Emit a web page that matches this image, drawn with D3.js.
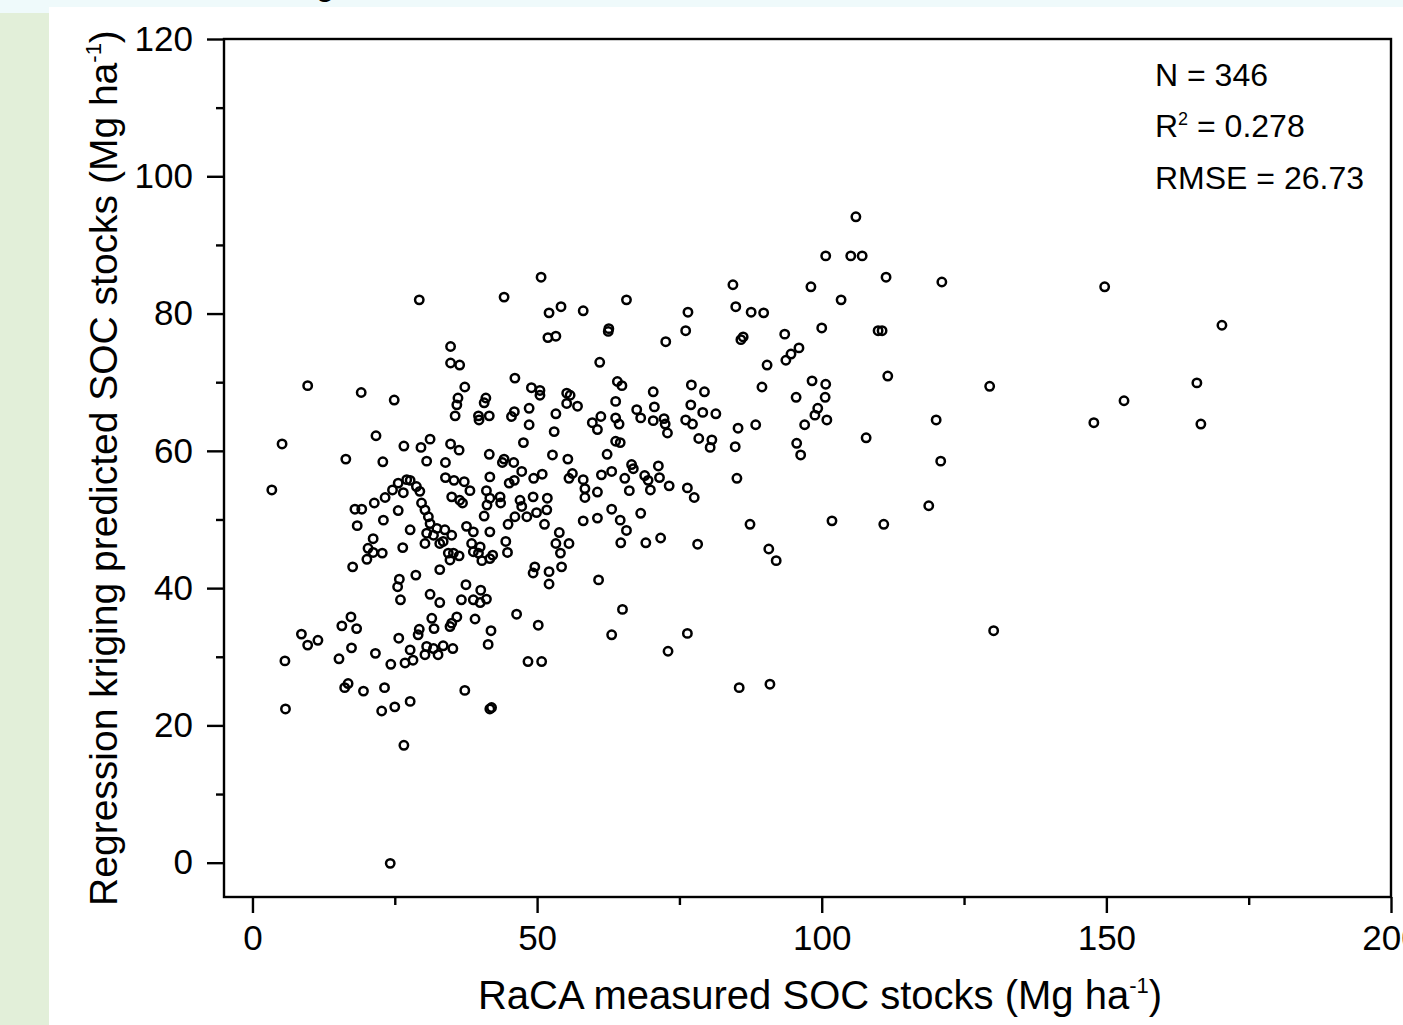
<!DOCTYPE html>
<html>
<head>
<meta charset="utf-8">
<script src="https://cdn.jsdelivr.net/npm/d3@7"></script>
<style>
  html, body { margin: 0; padding: 0; background: #ffffff; overflow: hidden; }
  svg { display: block; }
  text { font-family: "Liberation Sans", Arial, Helvetica, sans-serif; fill: #000; }
</style>
</head>
<body>
<svg id="chart" width="1403" height="1025"></svg>
<script>
// ---- Data ----
const measured = [
106.0,100.7,105.1,107.1,149.7,121.1,111.3,98.1,103.4,84.4,84.9,87.6,89.8,76.5,76.1,100.0,109.9,110.6,170.3,85.8,
86.2,93.5,96.0,94.6,93.7,90.4,111.6,129.5,165.9,98.3,100.7,100.6,100.9,153.1,95.5,89.5,99.3,98.8,97.0,120.1,
147.8,166.6,88.4,107.8,95.6,96.3,120.9,84.8,118.8,110.9,101.8,87.4,90.7,92.0,130.2,85.5,90.9,85.1,85.3,
58.1,65.7,62.6,62.5,72.6,61.0,64.1,64.9,70.4,77.1,79.4,55.8,57.1,63.8,67.5,68.2,70.6,77.0,79.1,81.4,
59.7,61.2,60.6,63.8,64.4,70.4,72.3,72.5,72.9,76.1,77.3,78.4,80.7,80.4,63.8,64.6,62.3,55.4,66.6,66.9,
71.3,56.2,55.6,61.3,63.1,65.4,68.9,69.5,69.9,71.5,73.2,76.4,77.6,58.1,58.4,58.4,60.6,66.2,63.1,64.6,
68.2,60.6,58.1,65.7,55.6,64.7,69.1,71.7,78.2,60.8,65.0,63.1,76.4,73.0,
29.3,44.2,50.7,52.1,54.2,51.9,53.3,34.8,34.8,36.4,37.3,36.1,35.9,35.6,41.0,40.7,39.7,39.8,41.6,46.1,
49.0,50.5,50.5,55.2,55.2,46.0,45.5,48.6,53.3,48.6,53.0,47.6,31.2,29.6,34.8,36.3,41.6,52.7,30.6,33.9,
44.2,43.9,45.9,47.3,41.7,33.9,35.4,37.2,38.2,45.1,46.0,49.4,50.9,27.7,28.8,29.4,29.7,30.3,30.9,35.0,
36.4,36.9,41.1,41.7,43.5,43.6,41.2,47.0,47.3,46.1,48.2,49.3,51.8,51.7,49.9,40.7,
9.7,19.1,24.9,5.2,21.7,26.6,16.4,22.9,3.4,25.6,27.1,24.6,26.5,23.3,21.4,18.0,19.2,25.6,23.0,18.4,
27.7,21.2,20.3,21.2,22.8,20.1,26.4,17.6,25.8,25.5,26.0,17.3,15.7,18.3,8.6,9.7,11.5,25.7,27.7,17.4,
15.2,21.6,24.3,26.8,28.2,5.7,16.8,16.2,19.5,23.2,27.7,5.8,22.7,25.0,26.6,24.2,
31.2,30.6,30.3,31.8,32.4,32.9,33.8,33.5,35.0,34.4,35.3,36.3,32.9,34.7,37.6,38.8,38.5,38.8,40.0,39.7,
40.3,41.7,42.2,41.7,44.9,44.5,44.8,51.3,53.9,53.3,54.1,54.3,49.6,49.3,52.1,52.1,28.7,37.5,40.1,36.7,
38.8,40.0,41.1,31.2,32.9,46.4,50.2,31.5,31.9,29.3,29.1,35.9,35.0,34.7,39.1,41.9,41.4,30.6,31.8,33.5,
35.2,30.3,32.6,48.4,50.8,37.3,42.0,41.7
];
const predicted = [
94.1,88.4,88.4,88.4,83.9,84.6,85.3,83.9,82.0,84.2,81.0,80.2,80.1,80.2,77.5,77.9,77.5,77.5,78.3,76.2,
76.6,77.0,75.0,74.1,73.2,72.5,70.9,69.4,69.9,70.2,69.7,67.8,64.5,67.3,67.8,69.3,66.2,65.2,63.8,64.5,
64.1,63.9,63.8,61.9,61.1,59.4,58.5,60.6,52.0,49.3,49.8,49.3,45.7,44.0,33.8,25.5,26.0,56.0,63.3,
80.4,82.0,77.8,77.4,75.9,72.9,70.1,69.5,68.6,69.6,68.6,68.1,66.5,67.2,66.0,64.8,66.4,66.7,65.6,65.4,
64.1,65.0,63.1,64.8,63.9,64.4,64.7,63.9,62.6,64.5,63.9,61.8,61.6,60.5,61.4,61.2,59.5,58.8,58.0,57.4,
57.8,56.7,56.0,56.5,57.0,56.0,56.4,55.7,54.3,56.1,54.9,54.6,53.2,55.8,54.5,53.2,54.0,54.2,51.5,49.9,
50.9,50.2,49.8,48.4,46.5,46.6,46.6,47.3,46.4,41.2,36.9,33.2,33.4,30.8,
82.0,82.4,85.3,80.1,81.0,76.5,76.7,75.2,72.8,72.5,69.3,67.7,66.7,65.1,67.7,67.0,65.1,64.5,65.1,70.6,
69.2,68.8,68.1,68.4,66.9,65.7,65.0,66.2,65.4,63.8,62.8,61.2,61.7,60.5,61.0,60.1,59.5,59.4,58.5,58.3,
58.8,58.3,58.3,57.0,56.2,56.1,55.7,55.5,54.2,55.3,55.7,56.0,56.6,55.7,54.8,54.1,52.4,51.4,50.4,53.3,
52.8,52.4,54.2,53.1,53.3,52.4,52.1,52.8,51.9,50.4,50.4,53.3,53.1,51.4,51.0,50.5,
69.5,68.5,67.4,61.0,62.2,60.7,58.8,58.4,54.3,55.3,55.8,54.3,53.9,53.2,52.4,51.5,51.5,51.3,49.9,49.1,
48.5,47.2,45.8,45.2,45.1,44.2,45.9,43.1,41.3,40.2,38.3,35.8,34.5,34.1,33.3,31.7,32.4,32.7,31.0,31.3,
29.7,30.5,28.9,29.1,29.5,29.4,26.1,25.5,25.0,25.5,23.5,22.4,22.1,22.7,17.1,-0.1,
49.4,48.0,46.5,47.7,48.7,46.5,48.5,46.8,47.7,45.1,45.1,44.7,42.7,44.1,49.0,48.2,46.5,45.3,46.0,45.1,
44.0,44.3,44.8,48.2,49.3,46.8,45.2,49.3,48.1,46.5,45.1,43.1,43.1,42.2,42.4,40.6,41.9,40.5,39.7,38.3,
38.3,37.9,38.4,39.1,37.9,36.2,34.6,35.6,34.1,34.0,33.2,35.8,34.9,34.4,35.5,33.8,31.8,31.5,31.2,31.6,
31.2,30.3,30.3,29.3,29.3,25.1,22.6,22.4
];
const xMajorTicks = [0, 50, 100, 150, 200];
const xMinorTicks = [25, 75, 125, 175];
const yMajorTicks = [0, 20, 40, 60, 80, 100, 120];
const yMinorTicks = [10, 30, 50, 70, 90, 110];
const statN = "N = 346";
const statR2 = "0.278";
const statRMSE = "RMSE = 26.73";
const xTitle = "RaCA measured SOC stocks (Mg ha";
const yTitle = "Regression kriging predicted SOC stocks (Mg ha";

const points = measured.map((m, i) => ({ m, p: predicted[i] }));

// ---- Layout ----
const svg = d3.select("#chart");
const W = 1403, H = 1025;
const plot = { left: 224, right: 1391, top: 39, bottom: 897 };

// page background bands
svg.append("rect").attr("x", 0).attr("y", 0).attr("width", W).attr("height", H).attr("fill", "#ffffff");
svg.append("rect").attr("x", 0).attr("y", 0).attr("width", W).attr("height", 7).attr("fill", "#effafb");
svg.append("rect").attr("x", 0).attr("y", 0).attr("width", 49).attr("height", 13).attr("fill", "#effafb");
svg.append("rect").attr("x", 0).attr("y", 13).attr("width", 49).attr("height", H - 13).attr("fill", "#e2efd9");
// fragment of a caption above, cut off by the crop
svg.append("text").attr("x", 318).attr("y", -5).attr("font-size", 34).attr("font-style", "italic").text("g");

const x = d3.scaleLinear().domain([-5, 200]).range([plot.left, plot.right]);
const y = d3.scaleLinear().domain([-5, 120]).range([plot.bottom, plot.top]);

// X axis
const xAxis = svg.append("g").attr("transform", `translate(0,${plot.bottom})`)
  .call(d3.axisBottom(x).tickValues(xMajorTicks).tickSize(16).tickPadding(12).tickFormat(d3.format("d")));
xAxis.select(".domain").remove();
xAxis.selectAll("line").attr("stroke", "#000").attr("stroke-width", 2.4);
xAxis.selectAll("text").attr("font-size", 35).attr("font-family", null).style("fill", "#000");
svg.append("g").attr("transform", `translate(0,${plot.bottom})`)
  .call(d3.axisBottom(x).tickValues(xMinorTicks).tickSize(8).tickFormat(""))
  .call(g => g.select(".domain").remove())
  .selectAll("line").attr("stroke", "#000").attr("stroke-width", 2.4);

// Y axis
const yAxis = svg.append("g").attr("transform", `translate(${plot.left},0)`)
  .call(d3.axisLeft(y).tickValues(yMajorTicks).tickSize(17).tickPadding(14).tickFormat(d3.format("d")));
yAxis.select(".domain").remove();
yAxis.selectAll("line").attr("stroke", "#000").attr("stroke-width", 2.4);
yAxis.selectAll("text").attr("font-size", 35).attr("font-family", null).style("fill", "#000");
svg.append("g").attr("transform", `translate(${plot.left},0)`)
  .call(d3.axisLeft(y).tickValues(yMinorTicks).tickSize(8).tickFormat(""))
  .call(g => g.select(".domain").remove())
  .selectAll("line").attr("stroke", "#000").attr("stroke-width", 2.4);

// Frame
svg.append("rect")
  .attr("x", plot.left).attr("y", plot.top)
  .attr("width", plot.right - plot.left).attr("height", plot.bottom - plot.top)
  .attr("fill", "none").attr("stroke", "#000").attr("stroke-width", 2.4);

// Points
svg.append("g").selectAll("circle").data(points).join("circle")
  .attr("cx", d => x(d.m)).attr("cy", d => y(d.p)).attr("r", 4.2)
  .attr("fill", "none").attr("stroke", "#000").attr("stroke-width", 2.5);

// Stats
const st = svg.append("g").attr("font-size", 32);
st.append("text").attr("x", 1155).attr("y", 86).text(statN);
const r2 = st.append("text").attr("x", 1155).attr("y", 137);
r2.append("tspan").text("R");
r2.append("tspan").attr("font-size", 18).attr("dy", -12).text("2");
r2.append("tspan").attr("dy", 12).text(" = " + statR2);
st.append("text").attr("x", 1155).attr("y", 189).text(statRMSE);

// Axis titles
const xt = svg.append("text").attr("x", 820).attr("y", 1009).attr("text-anchor", "middle").attr("font-size", 40);
xt.append("tspan").text(xTitle);
xt.append("tspan").attr("font-size", 22).attr("dy", -16).text("-1");
xt.append("tspan").attr("dy", 16).text(")");

const yt = svg.append("text").attr("transform", "translate(117,468) rotate(-90)")
  .attr("text-anchor", "middle").attr("font-size", 39);
yt.append("tspan").text(yTitle);
yt.append("tspan").attr("font-size", 22).attr("dy", -16).text("-1");
yt.append("tspan").attr("dy", 16).text(")");
</script>
</body>
</html>
